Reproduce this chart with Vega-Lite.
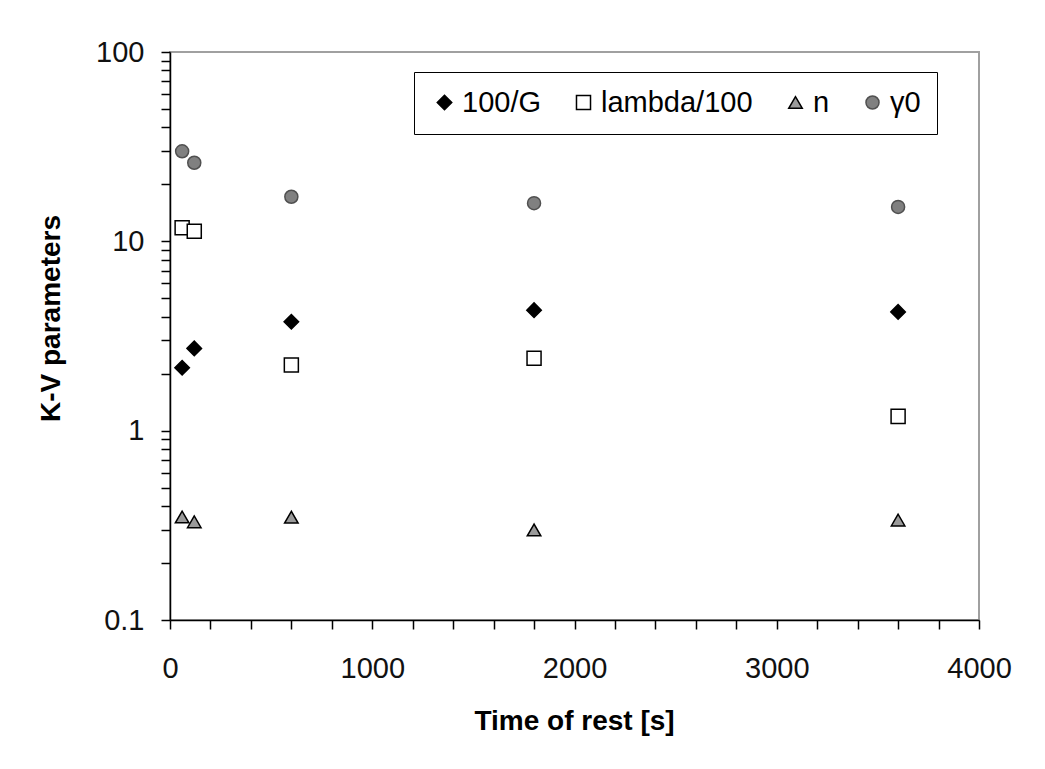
{
  "$schema": "https://vega.github.io/schema/vega-lite/v6.json",
  "autosize": "none",
  "width": 809,
  "height": 568,
  "padding": {"left": 170, "top": 52, "right": 66, "bottom": 149},
  "background": "white",
  "config": {
    "font": "Liberation Sans",
    "view": {"stroke": "#a0a0a0", "strokeWidth": 2},
    "axis": {
      "grid": false,
      "domainColor": "#000",
      "domainWidth": 1.5,
      "tickColor": "#000",
      "tickWidth": 1.5,
      "tickSize": 9,
      "labelFont": "Liberation Sans",
      "labelFontSize": 29,
      "labelColor": "#111",
      "titleFont": "Liberation Sans",
      "titleFontSize": 28,
      "titleFontWeight": "bold",
      "titleColor": "#000",
      "labelOverlap": false,
      "labelFlush": false
    }
  },
  "data": {
    "values": [
      {"t": 60, "series": "100/G", "value": 2.15},
      {"t": 120, "series": "100/G", "value": 2.72},
      {"t": 600, "series": "100/G", "value": 3.76},
      {"t": 1800, "series": "100/G", "value": 4.33},
      {"t": 3600, "series": "100/G", "value": 4.24},
      {"t": 60, "series": "lambda/100", "value": 11.8},
      {"t": 120, "series": "lambda/100", "value": 11.3},
      {"t": 600, "series": "lambda/100", "value": 2.22},
      {"t": 1800, "series": "lambda/100", "value": 2.41},
      {"t": 3600, "series": "lambda/100", "value": 1.19},
      {"t": 60, "series": "n", "value": 0.35},
      {"t": 120, "series": "n", "value": 0.33},
      {"t": 600, "series": "n", "value": 0.349},
      {"t": 1800, "series": "n", "value": 0.299},
      {"t": 3600, "series": "n", "value": 0.337},
      {"t": 60, "series": "γ0", "value": 29.9},
      {"t": 120, "series": "γ0", "value": 26.0},
      {"t": 600, "series": "γ0", "value": 17.2},
      {"t": 1800, "series": "γ0", "value": 15.9},
      {"t": 3600, "series": "γ0", "value": 15.2}
    ]
  },
  "mark": {"type": "point", "filled": true, "strokeWidth": 1.5, "opacity": 1},
  "encoding": {
    "x": {
      "field": "t",
      "type": "quantitative",
      "scale": {"domain": [0, 4000], "nice": false},
      "axis": {
        "title": "Time of rest [s]",
        "values": [0, 200, 400, 600, 800, 1000, 1200, 1400, 1600, 1800, 2000, 2200, 2400, 2600, 2800, 3000, 3200, 3400, 3600, 3800, 4000],
        "format": "d",
        "labelExpr": "datum.value % 1000 == 0 ? datum.label : ''",
        "labelBaseline": "alphabetic",
        "labelPadding": 48,
        "titleX": 404,
        "titleY": 109,
        "titleBaseline": "alphabetic",
        "titleAlign": "center"
      }
    },
    "y": {
      "field": "value",
      "type": "quantitative",
      "scale": {"type": "log", "domain": [0.1, 100], "nice": false},
      "axis": {
        "title": "K-V parameters",
        "values": [0.1, 0.2, 0.3, 0.4, 0.5, 0.6, 0.7, 0.8, 0.9, 1, 2, 3, 4, 5, 6, 7, 8, 9, 10, 20, 30, 40, 50, 60, 70, 80, 90, 100],
        "labelExpr": "indexof([0.1, 1, 10, 100], datum.value) >= 0 ? format(datum.value, '~g') : ''",
        "labelPadding": 17,
        "titleAngle": -90,
        "titleX": -119,
        "titleY": 266,
        "titleAlign": "center",
        "titleBaseline": "middle"
      }
    },
    "shape": {
      "field": "series",
      "type": "nominal",
      "scale": {"domain": ["100/G", "lambda/100", "n", "γ0"], "range": ["diamond", "square", "triangle-up", "circle"]},
      "legend": {
        "title": null,
        "orient": "none",
        "legendX": 244,
        "legendY": 20,
        "direction": "horizontal",
        "strokeColor": "#000",
        "fillColor": "#fff",
        "padding": 16,
        "columnPadding": 28,
        "labelOffset": 3,
        "labelFont": "Liberation Sans",
        "labelFontSize": 29,
        "labelColor": "#000",
        "symbolStrokeWidth": 1.5,
        "gridAlign": "none",
        "encode": {
          "legend": {"update": {"strokeWidth": {"value": 2}}},
          "symbols": {"update": {"size": {"signal": "datum.value == 'γ0' ? 55 : 165"}}},
          "labels": {"update": {
            "fontStyle": {"signal": "datum.value == 'γ0' ? 'italic' : 'normal'"},
            "fontWeight": {"signal": "datum.value == 'γ0' ? 'bold' : 'normal'"},
            "font": {"signal": "datum.value == 'γ0' ? 'Liberation Serif' : 'Liberation Sans'"},
            "fontSize": {"signal": "datum.value == 'γ0' ? 36 : 29"}
          }}
        }
      }
    },
    "fill": {
      "field": "series",
      "type": "nominal",
      "scale": {"domain": ["100/G", "lambda/100", "n", "γ0"], "range": ["#000000", "#ffffff", "#9a9a9a", "#808080"]}
    },
    "stroke": {
      "field": "series",
      "type": "nominal",
      "scale": {"domain": ["100/G", "lambda/100", "n", "γ0"], "range": ["#000000", "#000000", "#000000", "#505050"]}
    },
    "size": {
      "field": "series",
      "type": "nominal",
      "scale": {"domain": ["100/G", "lambda/100", "n", "γ0"], "range": [210, 170, 230, 80]}
    }
  }
}
